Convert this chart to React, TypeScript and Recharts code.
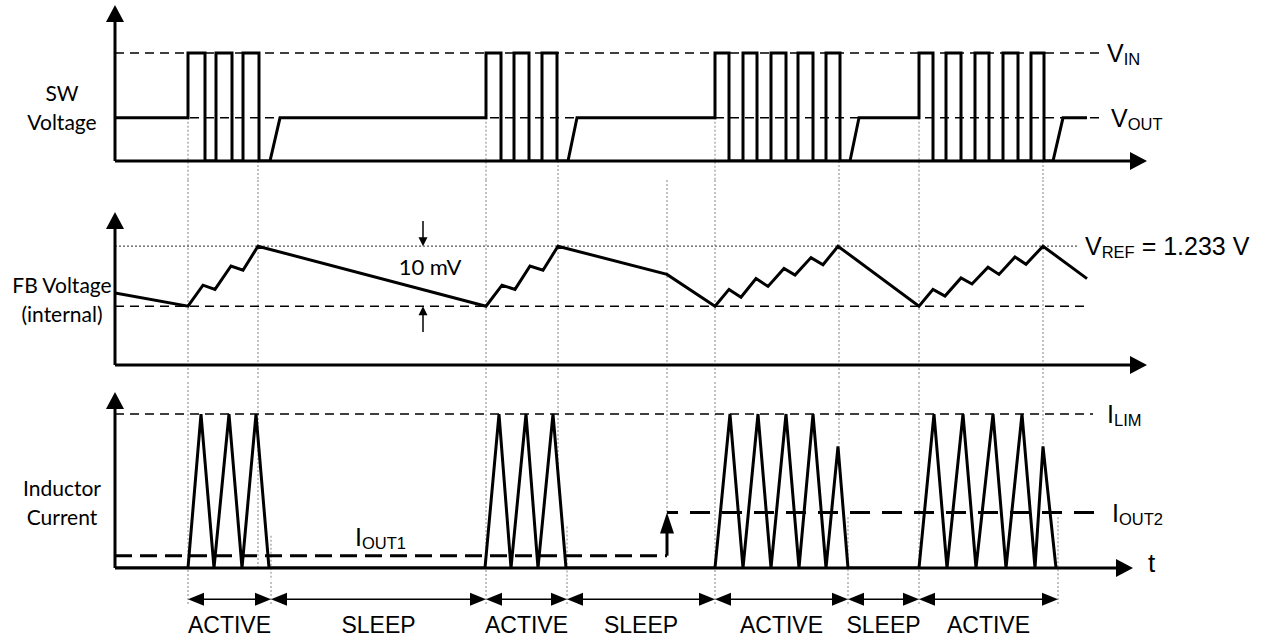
import React from "react";
import { LineChart, Line, XAxis, YAxis, ReferenceLine, ReferenceDot } from "recharts";

// shared time base (arbitrary µs) – x axis arrow tips
const T_AXIS_END = 103.2;
const T_AXIS_END_IL = 101.8;

// ---- SW node voltage (V)
const VIN = 5;
const VOUT = 2;
const SW_TOP = 7.22;
const swWave: [number, number][] = [
  [0, VOUT], [7.3, VOUT],
  [7.3, VIN], [9.0, VIN], [9.0, 0], [10.1, 0], [10.1, VIN], [11.7, VIN], [11.7, 0], [12.8, 0],
  [12.8, VIN], [14.4, VIN], [14.4, 0], [15.5, 0], [16.5, VOUT], [37.1, VOUT],
  [37.1, VIN], [38.6, VIN], [38.6, 0], [39.9, 0], [39.9, VIN], [41.4, VIN], [41.4, 0], [42.7, 0],
  [42.7, VIN], [44.2, VIN], [44.2, 0], [45.3, 0], [46.2, VOUT], [60.0, VOUT],
  [60.0, VIN], [61.4, VIN], [61.4, 0], [62.8, 0], [62.8, VIN], [64.2, VIN], [64.2, 0], [65.6, 0],
  [65.6, VIN], [67.1, VIN], [67.1, 0], [68.3, 0], [68.3, VIN], [69.8, VIN], [69.8, 0], [71.1, 0],
  [71.1, VIN], [72.5, VIN], [72.5, 0], [73.5, 0], [74.4, VOUT], [80.4, VOUT],
  [80.4, VIN], [81.8, VIN], [81.8, 0], [83.1, 0], [83.1, VIN], [84.6, VIN], [84.6, 0], [86.0, 0],
  [86.0, VIN], [87.4, VIN], [87.4, 0], [88.8, 0], [88.8, VIN], [90.3, VIN], [90.3, 0], [91.6, 0],
  [91.6, VIN], [92.9, VIN], [92.9, 0], [93.8, 0], [94.8, VOUT], [97.2, VOUT],
];

// ---- FB voltage (mV)
const VREF = 1233;
const VLOW = 1223;
const FB_MIN = 1213.2;
const FB_TOP = 1238.7;
const fbWave: [number, number][] = [
  [0, 1225.2], [7.3, 1223.0], [8.8, 1226.5], [10.0, 1225.8], [11.6, 1229.7], [12.8, 1229.0],
  [14.3, 1233.0], [37.1, 1223.0], [38.7, 1226.5], [40.0, 1225.8], [41.5, 1229.7], [42.8, 1229.0],
  [44.3, 1233.0], [55.2, 1228.3], [60.0, 1223.0], [61.4, 1225.8], [62.6, 1224.5], [64.1, 1227.6],
  [65.3, 1226.3], [66.9, 1229.3], [68.0, 1228.2], [69.6, 1231.1], [70.8, 1229.9], [72.3, 1233.0],
  [80.4, 1223.0], [81.8, 1225.8], [83.0, 1224.7], [84.6, 1227.7], [85.7, 1226.7], [87.3, 1229.5],
  [88.4, 1228.3], [90.0, 1231.2], [91.1, 1230.0], [92.8, 1233.0], [97.2, 1227.6],
];

// ---- inductor current (A, normalised to I_LIM)
const ILIM = 1;
const IOUT1 = 0.08;
const IOUT2 = 0.36;
const IL_TOP = 1.143;
const ilWave: [number, number][] = [
  [0, 0], [7.3, 0], [8.6, 1], [9.9, 0], [11.4, 1], [12.7, 0], [14.1, 1], [15.4, 0],
  [37.0, 0], [38.4, 1], [39.6, 0], [41.1, 1], [42.3, 0], [43.8, 1], [45.1, 0],
  [60.0, 0], [61.5, 1], [62.8, 0], [64.3, 1], [65.6, 0], [67.1, 1], [68.4, 0], [69.8, 1],
  [71.1, 0], [72.3, 0.79], [73.3, 0],
  [80.4, 0], [81.9, 1], [83.2, 0], [84.8, 1], [86.1, 0], [87.8, 1], [89.1, 0], [90.7, 1],
  [92.0, 0], [92.8, 0.79], [94.1, 0],
];
const LOAD_STEP_T = 55.2;

// ---- timing guides / phases
const burstStarts = [7.3, 37.1, 60.0, 80.4];
const burstEnds = [14.3, 44.3, 72.4, 92.8];
const burstEndStops = [0, 0.57, 0.79, 0.79];
const currentZero = [15.6, 45.2, 73.3, 94.3];
const currentZeroStarts = [0.21, 0.27, 0.33, 0.33];
const phaseEdges = [7.3, 15.6, 37.1, 45.2, 60.0, 73.3, 80.4, 94.3];
const phaseNames = ["ACTIVE", "SLEEP", "ACTIVE", "SLEEP", "ACTIVE", "SLEEP", "ACTIVE"];

const toPts = (w: [number, number][]) => w.map(([t, v]) => ({ t, v }));

const W = 1270;
const MARGIN_X = { left: 115, right: 123 };
const ARIAL = "'Liberation Sans', Arial, sans-serif";
const CALIBRI = "Lato, 'Open Sans', sans-serif";

const guide = {
  stroke: "#9a9a9a",
  strokeWidth: 1.2,
  strokeDasharray: "2 2",
  ifOverflow: "visible" as const,
};
const thinDash = { stroke: "#000", strokeWidth: 1.5, strokeDasharray: "9 6", ifOverflow: "visible" as const };

function arrowShape(width: number, len: number, half: number, both = false) {
  return (p: any) => {
    const { x1, y1, x2, y2 } = p;
    const dx = x2 - x1;
    const dy = y2 - y1;
    const L = Math.hypot(dx, dy) || 1;
    const ux = dx / L;
    const uy = dy / L;
    const head = (tx: number, ty: number, sx: number, sy: number) => {
      const bx = tx - sx * len;
      const by = ty - sy * len;
      return `M${tx},${ty}L${bx - sy * half},${by + sx * half}L${bx + sy * half},${by - sx * half}Z`;
    };
    const sx = both ? x1 + ux * len * 0.9 : x1;
    const sy = both ? y1 + uy * len * 0.9 : y1;
    return (
      <g>
        <line x1={sx} y1={sy} x2={x2 - ux * len * 0.9} y2={y2 - uy * len * 0.9} stroke="#000" strokeWidth={width} />
        <path d={head(x2, y2, ux, uy)} fill="#000" />
        {both && <path d={head(x1, y1, -ux, -uy)} fill="#000" />}
      </g>
    );
  };
}

function subLabel(main: string, sub: string, rest = "", size = 25, lift = 0) {
  return (p: any) => (
    <text x={p.cx} y={p.cy + size * 0.36 - lift} fontFamily={ARIAL} fontSize={size} fill="#000">
      {main}
      <tspan fontSize={size * 0.66} dy={3}>{sub}</tspan>
      {rest ? <tspan dy={-3}>{rest}</tspan> : null}
    </text>
  );
}

function plainLabel(text: string, size: number, family: string, dy: number, anchor = "start") {
  return (p: any) => (
    <text x={p.cx} y={p.cy + dy} fontFamily={family} fontSize={size} fill="#000" textAnchor={anchor}>
      {text}
    </text>
  );
}

const axisArrow = arrowShape(3, 17, 9);
const smallArrow = arrowShape(1.5, 9, 4.5);
const phaseArrow = arrowShape(1.5, 16, 6.5, true);
const stepArrow = arrowShape(3, 21, 7);

function SideLabel({ lines, top }: { lines: string[]; top: number }) {
  return (
    <div
      style={{
        position: "absolute",
        left: 0,
        top,
        width: 124,
        textAlign: "center",
        fontFamily: CALIBRI,
        fontSize: 21,
        lineHeight: "29px",
        color: "#000",
      }}
    >
      {lines.map((l) => (
        <div key={l}>{l}</div>
      ))}
    </div>
  );
}

export default function App() {
  const swData = toPts(swWave);
  const fbData = toPts(fbWave);
  const ilData = toPts(ilWave);

  return (
    <div style={{ position: "absolute", left: 0, top: 0, width: W, height: 638, background: "#fff" }}>
      {/* SW voltage */}
      <div style={{ position: "absolute", left: 0, top: 0 }}>
        <LineChart width={W} height={180} data={swData} margin={{ top: 5, bottom: 19, ...MARGIN_X }}>
          <XAxis type="number" dataKey="t" domain={[0, T_AXIS_END]} allowDataOverflow hide />
          <YAxis type="number" domain={[0, SW_TOP]} allowDataOverflow hide />
          {burstStarts.map((t) => (
            <ReferenceLine key={"a" + t} segment={[{ x: t, y: VOUT }, { x: t, y: -3 }]} {...guide} />
          ))}
          {burstEnds.map((t) => (
            <ReferenceLine key={"b" + t} segment={[{ x: t, y: 0 }, { x: t, y: -3 }]} {...guide} />
          ))}
          <ReferenceLine segment={[{ x: 0, y: VIN }, { x: 98.7, y: VIN }]} {...thinDash} />
          <ReferenceLine segment={[{ x: 0, y: VOUT }, { x: 98.8, y: VOUT }]} {...thinDash} />
          <Line type="linear" dataKey="v" stroke="#000" strokeWidth={3} dot={false} isAnimationActive={false} />
          <ReferenceLine segment={[{ x: 0, y: 0 }, { x: T_AXIS_END, y: 0 }]} shape={axisArrow} ifOverflow="visible" />
          <ReferenceLine segment={[{ x: 0, y: 0 }, { x: 0, y: SW_TOP }]} shape={axisArrow} ifOverflow="visible" />
          <ReferenceDot x={99.2} y={VIN} ifOverflow="visible" shape={subLabel("V", "IN")} />
          <ReferenceDot x={99.6} y={VOUT} ifOverflow="visible" shape={subLabel("V", "OUT")} />
        </LineChart>
      </div>

      {/* FB voltage */}
      <div style={{ position: "absolute", left: 0, top: 180 }}>
        <LineChart width={W} height={200} data={fbData} margin={{ top: 32, bottom: 15, ...MARGIN_X }}>
          <XAxis type="number" dataKey="t" domain={[0, T_AXIS_END]} allowDataOverflow hide />
          <YAxis type="number" domain={[FB_MIN, FB_TOP]} allowDataOverflow hide />
          {[...burstStarts, ...burstEnds, LOAD_STEP_T].map((t) => (
            <ReferenceLine key={"g" + t} segment={[{ x: t, y: FB_TOP + 20 }, { x: t, y: FB_MIN - 20 }]} {...guide} />
          ))}
          <ReferenceLine
            segment={[{ x: 0, y: VREF }, { x: 96.2, y: VREF }]}
            stroke="#555"
            strokeWidth={1.3}
            strokeDasharray="2 2"
            ifOverflow="visible"
          />
          <ReferenceLine segment={[{ x: 0, y: VLOW }, { x: 97.2, y: VLOW }]} {...thinDash} />
          <Line type="linear" dataKey="v" stroke="#000" strokeWidth={3} dot={false} isAnimationActive={false} />
          <ReferenceLine segment={[{ x: 0, y: FB_MIN }, { x: T_AXIS_END, y: FB_MIN }]} shape={axisArrow} ifOverflow="visible" />
          <ReferenceLine segment={[{ x: 0, y: FB_MIN }, { x: 0, y: FB_TOP }]} shape={axisArrow} ifOverflow="visible" />
          <ReferenceLine segment={[{ x: 30.8, y: VREF + 4.2 }, { x: 30.8, y: VREF }]} shape={smallArrow} ifOverflow="visible" />
          <ReferenceLine segment={[{ x: 30.8, y: VLOW - 4.3 }, { x: 30.8, y: VLOW }]} shape={smallArrow} ifOverflow="visible" />
          <ReferenceDot x={31.5} y={1229.5} ifOverflow="visible" shape={plainLabel("10 mV", 22, CALIBRI, 8, "middle")} />
          <ReferenceDot x={97.0} y={VREF} ifOverflow="visible" shape={subLabel("V", "REF", " = 1.233 V")} />
        </LineChart>
      </div>

      {/* inductor current */}
      <div style={{ position: "absolute", left: 0, top: 380 }}>
        <LineChart width={W} height={200} data={ilData} margin={{ top: 12, bottom: 12, ...MARGIN_X }}>
          <XAxis type="number" dataKey="t" domain={[0, T_AXIS_END]} allowDataOverflow hide />
          <YAxis type="number" domain={[0, IL_TOP]} allowDataOverflow hide />
          {burstStarts.map((t) => (
            <ReferenceLine key={"s" + t} segment={[{ x: t, y: IL_TOP + 1 }, { x: t, y: -1 }]} {...guide} />
          ))}
          {burstEnds.map((t, i) => (
            <ReferenceLine key={"e" + t} segment={[{ x: t, y: IL_TOP + 1 }, { x: t, y: burstEndStops[i] }]} {...guide} />
          ))}
          {currentZero.map((t, i) => (
            <ReferenceLine key={"z" + t} segment={[{ x: t, y: currentZeroStarts[i] }, { x: t, y: -1 }]} {...guide} />
          ))}
          <ReferenceLine segment={[{ x: LOAD_STEP_T, y: IL_TOP + 1 }, { x: LOAD_STEP_T, y: IOUT2 }]} {...guide} />
          <ReferenceLine segment={[{ x: 0, y: ILIM }, { x: 97.8, y: ILIM }]} {...thinDash} />
          <ReferenceLine
            segment={[{ x: 0, y: IOUT1 }, { x: LOAD_STEP_T, y: IOUT1 }]}
            stroke="#000"
            strokeWidth={3}
            strokeDasharray="17 8"
            ifOverflow="visible"
          />
          <ReferenceLine segment={[{ x: LOAD_STEP_T, y: IOUT1 }, { x: LOAD_STEP_T, y: IOUT2 }]} shape={stepArrow} ifOverflow="visible" />
          <ReferenceLine
            segment={[{ x: LOAD_STEP_T, y: IOUT2 }, { x: 98.7, y: IOUT2 }]}
            stroke="#000"
            strokeWidth={3}
            strokeDasharray="20 12"
            strokeDashoffset={9}
            ifOverflow="visible"
          />
          <Line type="linear" dataKey="v" stroke="#000" strokeWidth={3} dot={false} isAnimationActive={false} />
          <ReferenceLine segment={[{ x: 0, y: 0 }, { x: T_AXIS_END_IL, y: 0 }]} shape={axisArrow} ifOverflow="visible" />
          <ReferenceLine segment={[{ x: 0, y: 0 }, { x: 0, y: IL_TOP }]} shape={axisArrow} ifOverflow="visible" />
          <ReferenceDot x={99.2} y={ILIM} ifOverflow="visible" shape={subLabel("I", "LIM")} />
          <ReferenceDot x={99.7} y={IOUT2} ifOverflow="visible" shape={subLabel("I", "OUT2")} />
          <ReferenceDot x={24.0} y={IOUT1} ifOverflow="visible" shape={subLabel("I", "OUT1", "", 25, 19)} />
          <ReferenceDot x={103.3} y={0} ifOverflow="visible" shape={plainLabel("t", 26, ARIAL, 4)} />
        </LineChart>
      </div>

      {/* ACTIVE / SLEEP phases */}
      <div style={{ position: "absolute", left: 0, top: 580 }}>
        <LineChart width={W} height={58} data={[]} margin={{ top: 0, bottom: 0, ...MARGIN_X }}>
          <XAxis type="number" dataKey="t" domain={[0, T_AXIS_END]} allowDataOverflow hide />
          <YAxis type="number" domain={[0, 1]} allowDataOverflow hide />
          {phaseEdges.map((t) => (
            <ReferenceLine key={"p" + t} segment={[{ x: t, y: 2 }, { x: t, y: 0.55 }]} {...guide} />
          ))}
          {phaseNames.map((name, i) => (
            <ReferenceLine
              key={"ph" + i}
              segment={[{ x: phaseEdges[i], y: 0.67 }, { x: phaseEdges[i + 1], y: 0.67 }]}
              shape={phaseArrow}
              ifOverflow="visible"
            />
          ))}
          {phaseNames.map((name, i) => (
            <ReferenceDot
              key={"pl" + i}
              x={(phaseEdges[i] + phaseEdges[i + 1]) / 2}
              y={0.67}
              ifOverflow="visible"
              shape={plainLabel(name, 23, ARIAL, 34, "middle")}
            />
          ))}
        </LineChart>
      </div>

      <SideLabel lines={["SW", "Voltage"]} top={78} />
      <SideLabel lines={["FB Voltage", "(internal)"]} top={270} />
      <SideLabel lines={["Inductor", "Current"]} top={473} />
    </div>
  );
}
